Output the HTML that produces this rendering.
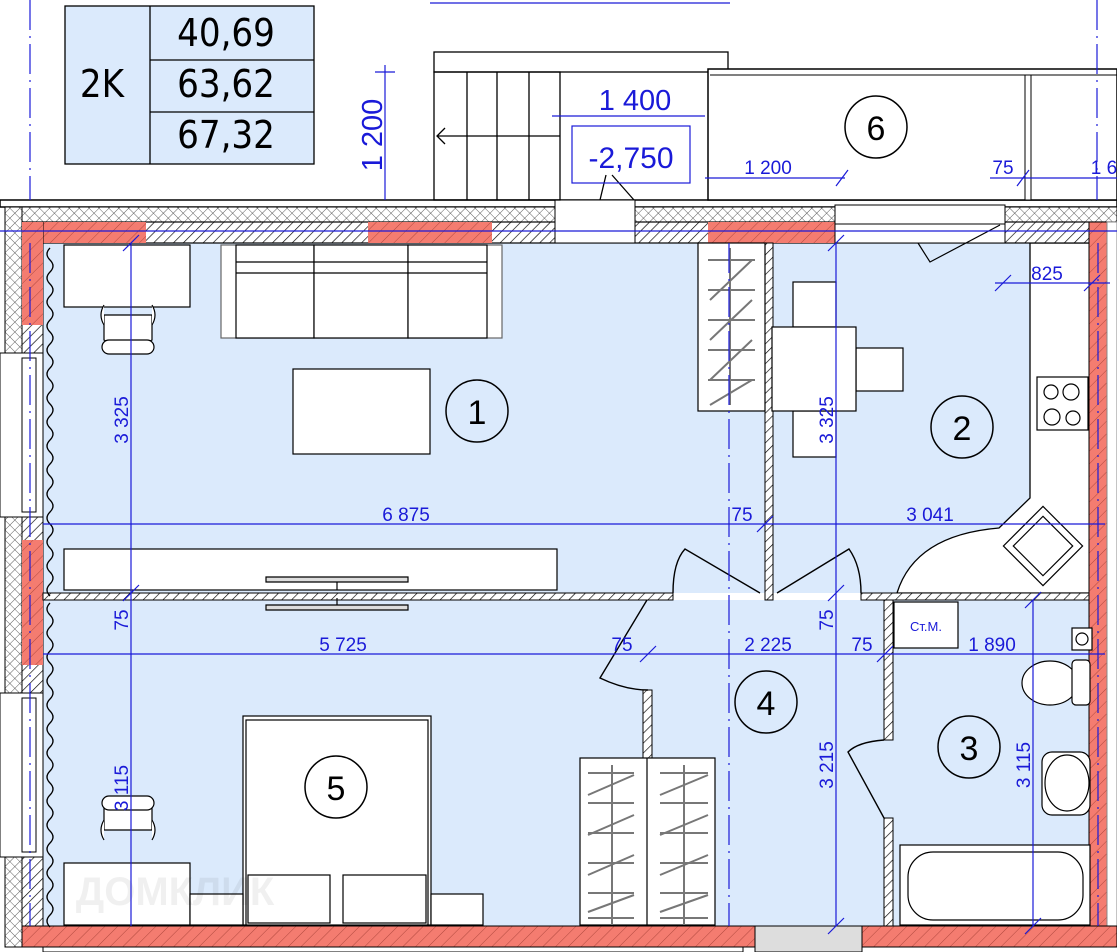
<!DOCTYPE html>
<html><head><meta charset="utf-8"><style>
html,body{margin:0;padding:0;background:#fff;}
svg{display:block;font-family:"Liberation Sans",sans-serif;}
.blu{fill:#1a1ad8;}
</style></head><body>
<svg width="1117" height="952" viewBox="0 0 1117 952" xmlns="http://www.w3.org/2000/svg">
<defs>
<pattern id="hat" width="7" height="7" patternUnits="userSpaceOnUse" patternTransform="rotate(45)">
<rect width="7" height="7" fill="#fff"/><line x1="0" y1="0" x2="0" y2="7" stroke="#000" stroke-width="1.3"/></pattern>
<pattern id="hatr" width="9" height="9" patternUnits="userSpaceOnUse" patternTransform="rotate(45)">
<rect width="9" height="9" fill="#f47c70"/><line x1="0" y1="0" x2="0" y2="9" stroke="#b0483e" stroke-width="1"/></pattern>
<pattern id="xh" width="7" height="7" patternUnits="userSpaceOnUse" patternTransform="rotate(45)">
<rect width="7" height="7" fill="#fff"/><path d="M0 0V7M0 0H7" stroke="#333" stroke-width="0.8"/></pattern>
</defs>

<rect x="43" y="243" width="722" height="350" fill="#dbeafc"/>
<rect x="773" y="243" width="319" height="350" fill="#dbeafc"/>
<rect x="43" y="600" width="1049" height="326" fill="#dbeafc"/>
<path d="M1030 243 V498 L999 528 Q915 535 897 593 H1092 V243Z" fill="#fff" stroke="#000" stroke-width="1.3"/>

<rect x="0" y="200" width="1117" height="7" fill="#fff" stroke="#000" stroke-width="1.5"/>
<rect x="5" y="207" width="1112" height="15" fill="url(#xh)" stroke="#000" stroke-width="1"/>
<rect x="22" y="222" width="1095" height="21" fill="url(#hat)" stroke="#000" stroke-width="1.2"/>
<rect x="22" y="222" width="124" height="21" fill="url(#hatr)"/>
<rect x="368" y="222" width="124" height="21" fill="url(#hatr)"/>
<rect x="708" y="222" width="127" height="21" fill="url(#hatr)"/>
<rect x="555" y="200" width="80" height="43" fill="#fff" stroke="#000"/>
<rect x="835" y="205" width="170" height="38" fill="#fff" stroke="#000"/>
<line x1="835" y1="224" x2="1005" y2="224" stroke="#000"/>
<path d="M918 243 L930 262 L1000 225" fill="none" stroke="#000" stroke-width="1.2"/>

<rect x="5" y="207" width="17" height="740" fill="url(#xh)" stroke="#000"/>
<rect x="22" y="222" width="21" height="725" fill="url(#hat)" stroke="#000"/>
<rect x="22" y="222" width="21" height="103" fill="url(#hatr)"/>
<rect x="22" y="540" width="21" height="125" fill="url(#hatr)"/>
<rect x="22" y="926" width="21" height="21" fill="url(#hatr)"/>
<rect x="0" y="353" width="43" height="164" fill="#fff" stroke="#000"/>
<rect x="22" y="358" width="14" height="154" fill="#fff" stroke="#000"/>
<rect x="0" y="693" width="43" height="164" fill="#fff" stroke="#000"/>
<rect x="22" y="698" width="14" height="154" fill="#fff" stroke="#000"/>

<rect x="1089" y="222" width="18" height="725" fill="url(#hatr)" stroke="#000"/>
<rect x="1107" y="222" width="10" height="725" fill="#fff" stroke="#888"/>

<rect x="22" y="926" width="1095" height="21" fill="url(#hatr)" stroke="#000"/>
<rect x="755" y="926" width="107" height="26" fill="#ddd" stroke="#000"/>
<rect x="43" y="947" width="700" height="5" fill="#fff" stroke="#000"/>

<rect x="43" y="593" width="630" height="7" fill="url(#hat)" stroke="#000"/>
<rect x="861" y="593" width="228" height="7" fill="url(#hat)" stroke="#000"/>
<rect x="765" y="243" width="8" height="357" fill="url(#hat)" stroke="#000"/>
<rect x="643" y="690" width="9" height="236" fill="url(#hat)" stroke="#000"/>
<rect x="884" y="600" width="9" height="140" fill="url(#hat)" stroke="#000"/>
<rect x="884" y="818" width="9" height="108" fill="url(#hat)" stroke="#000"/>

<g fill="none" stroke="#000" stroke-width="1.4">
<path d="M673 593 Q673 562 685 549 L760 593"/>
<path d="M777 593 L849 549 Q861 566 861 593"/>
<path d="M647 600 L600 678 Q625 690 648 690"/>
<path d="M884 740 Q858 742 848 752 L884 818"/>
</g>

<path d="M50 248 q-6 6 0 12 q6 6 0 12 q-6 6 0 12 q6 6 0 12 q-6 6 0 12 q6 6 0 12 q-6 6 0 12 q6 6 0 12 q-6 6 0 12 q6 6 0 12 q-6 6 0 12 q6 6 0 12 q-6 6 0 12 q6 6 0 12 q-6 6 0 12 q6 6 0 12 q-6 6 0 12 q6 6 0 12 q-6 6 0 12 q6 6 0 12 q-6 6 0 12 q6 6 0 12 q-6 6 0 12 q6 6 0 12 q-6 6 0 12 q6 6 0 12 q-6 6 0 12 q6 6 0 12 q-6 6 0 12" fill="none" stroke="#000" stroke-width="1.3"/>
<path d="M50 603 q-6 6 0 12 q6 6 0 12 q-6 6 0 12 q6 6 0 12 q-6 6 0 12 q6 6 0 12 q-6 6 0 12 q6 6 0 12 q-6 6 0 12 q6 6 0 12 q-6 6 0 12 q6 6 0 12 q-6 6 0 12 q6 6 0 12 q-6 6 0 12 q6 6 0 12 q-6 6 0 12 q6 6 0 12 q-6 6 0 12 q6 6 0 12 q-6 6 0 12 q6 6 0 12 q-6 6 0 12 q6 6 0 12 q-6 6 0 12 q6 6 0 12 q-6 6 0 12" fill="none" stroke="#000" stroke-width="1.3"/>

<g fill="#fff" stroke="#000" stroke-width="1.2">
<rect x="64" y="245" width="126" height="62"/>
<rect x="221" y="245" width="281" height="93" stroke="#666"/>
<rect x="236" y="245" width="78" height="93"/><rect x="314" y="245" width="94" height="93"/><rect x="408" y="245" width="79" height="93"/>
<line x1="236" y1="262" x2="487" y2="262"/><line x1="236" y1="273" x2="487" y2="273"/>
<rect x="293" y="369" width="137" height="85"/>
<rect x="64" y="549" width="493" height="41"/>
<path d="M104 315 h48 v25 q-24 14 -48 0 z"/>
<path d="M104 325 q-6 -10 0 -20 M152 325 q6 -10 0 -20"/>
<rect x="102" y="340" width="52" height="14" rx="7"/>
<path d="M266 577 H408 V582 H266Z" fill="#ddd"/><line x1="337" y1="582" x2="337" y2="590"/>
<path d="M266 605 H408 V610 H266Z" fill="#ddd"/><line x1="337" y1="598" x2="337" y2="605"/>
</g>
<circle cx="477" cy="411" r="31" fill="none" stroke="#000" stroke-width="1.5"/>
<text x="477" y="424" font-size="34" text-anchor="middle">1</text>

<g fill="#fff" stroke="#000" stroke-width="1.2">
<rect x="698" y="243" width="67" height="168"/>
<rect x="793" y="282" width="43" height="45"/><rect x="793" y="411" width="43" height="46"/>
<rect x="856" y="348" width="47" height="43"/>
<rect x="772" y="327" width="84" height="84"/>
<rect x="1037" y="377" width="51" height="53"/>
<circle cx="1051" cy="392" r="7"/><circle cx="1071" cy="392" r="8"/><circle cx="1052" cy="417" r="8"/><circle cx="1073" cy="418" r="7"/>
<rect x="1015" y="518" width="56" height="56" transform="rotate(45 1043 546)"/>
<rect x="1022" y="525" width="42" height="42" transform="rotate(45 1043 546)"/>
<rect x="580" y="758" width="135" height="167"/>
<line x1="647" y1="758" x2="647" y2="925"/>
</g>
<g stroke="#777" stroke-width="2">
<path d="M708 260H755M708 290H755M708 320H755M708 350H755M708 380H755M730 248V405M710 300L752 260M710 340L752 300M710 380L752 340M710 405L752 380"/>
<path d="M588 773H634M588 803H634M588 833H634M588 863H634M588 893H634M588 918H634M660 773H708M660 803H708M660 833H708M660 863H708M660 893H708M660 918H708M612 765V925M684 765V925M588 795L634 775M588 835L634 815M588 875L634 855M588 912L634 895M660 795L708 775M660 835L708 815M660 875L708 855M660 912L708 895"/>
</g>
<circle cx="962" cy="427" r="31" fill="none" stroke="#000" stroke-width="1.5"/>
<text x="962" y="440" font-size="34" text-anchor="middle">2</text>

<g fill="#fff" stroke="#000" stroke-width="1.2">
<rect x="243" y="716" width="188" height="209"/>
<rect x="246" y="720" width="182" height="205"/>
<rect x="248" y="875" width="82" height="48"/><rect x="343" y="875" width="83" height="48"/>
<rect x="64" y="863" width="126" height="62"/>
<rect x="190" y="894" width="53" height="31"/><rect x="431" y="894" width="52" height="31"/>
<path d="M104 830 h48 v-25 q-24 -14 -48 0 z"/>
<path d="M104 820 q-6 10 0 20 M152 820 q6 10 0 20"/>
<rect x="102" y="796" width="52" height="14" rx="7"/>
</g>
<circle cx="336" cy="787" r="31" fill="none" stroke="#000" stroke-width="1.5"/>
<text x="336" y="800" font-size="34" text-anchor="middle">5</text>
<text x="175" y="905" font-size="40" fill="#000" fill-opacity="0.06" text-anchor="middle" font-weight="bold">ДОМКЛИК</text>

<circle cx="766" cy="702" r="31" fill="none" stroke="#000" stroke-width="1.5"/>
<text x="766" y="715" font-size="34" text-anchor="middle">4</text>

<g fill="#fff" stroke="#000" stroke-width="1.2">
<rect x="894" y="602" width="64" height="46"/>
<rect x="1072" y="628" width="20" height="22"/>
<circle cx="1082" cy="639" r="6" fill="none"/>
<ellipse cx="1050" cy="683" rx="28" ry="22"/>
<rect x="1072" y="660" width="18" height="45" rx="4"/>
<rect x="1042" y="752" width="48" height="63" rx="10"/>
<ellipse cx="1067" cy="783" rx="22" ry="28"/>
<rect x="900" y="845" width="190" height="80"/>
<rect x="908" y="852" width="175" height="68" rx="25"/>
</g>
<text x="926" y="631" font-size="13" fill="#1a1ad8" text-anchor="middle">Ст.М.</text>
<circle cx="969" cy="747" r="31" fill="none" stroke="#000" stroke-width="1.5"/>
<text x="969" y="760" font-size="34" text-anchor="middle">3</text>

<rect x="65" y="6" width="249" height="158" fill="#dbeafc" stroke="#000" stroke-width="1.3"/>
<line x1="150" y1="6" x2="150" y2="164" stroke="#000" stroke-width="1.3"/>
<line x1="150" y1="60" x2="314" y2="60" stroke="#000" stroke-width="1.3"/>
<line x1="150" y1="112" x2="314" y2="112" stroke="#000" stroke-width="1.3"/>
<g font-size="38" text-anchor="middle" font-family="'DejaVu Sans Condensed','Liberation Sans Narrow','Liberation Sans',sans-serif">
<text x="102" y="97">2K</text>
<text x="226" y="46">40,69</text>
<text x="226" y="97">63,62</text>
<text x="226" y="148">67,32</text>
</g>

<g fill="none" stroke="#000" stroke-width="1.3">
<rect x="434" y="52" width="294" height="20" fill="#fff"/>
<rect x="434" y="72" width="126" height="128"/>
<path d="M467 72V200M497 72V200M529 72V200M437 136H560M445 128L437 136L445 144"/>
<path d="M600 200 L606 175 M612 175 L634 200"/>
</g>
<rect x="708" y="69" width="409" height="131" fill="#fff" stroke="#000" stroke-width="1.5"/>
<line x1="710" y1="75" x2="1117" y2="75" stroke="#000"/>
<rect x="1025" y="75" width="6" height="125" fill="#fff" stroke="#000"/>
<circle cx="876" cy="127" r="31" fill="none" stroke="#000" stroke-width="1.5"/>
<text x="876" y="140" font-size="34" text-anchor="middle">6</text>

<g stroke="#1a1ad8" stroke-width="1.2" fill="none">
<line x1="430" y1="3" x2="730" y2="3"/>
<line x1="385" y1="65" x2="385" y2="200"/><line x1="375" y1="72" x2="395" y2="72"/>
<line x1="552" y1="116" x2="705" y2="116"/>
<rect x="572" y="126" width="118" height="57"/>
<line x1="705" y1="178" x2="845" y2="178"/>
<line x1="990" y1="178" x2="1117" y2="178"/>
<line x1="0" y1="231" x2="1117" y2="231"/>
<line x1="30" y1="0" x2="30" y2="200" stroke-dasharray="30 6 2 6"/>
<line x1="1097" y1="0" x2="1097" y2="200" stroke-dasharray="30 6 2 6"/>
<line x1="1098" y1="243" x2="1098" y2="926" stroke-dasharray="30 6 2 6"/>
<line x1="729" y1="243" x2="729" y2="926" stroke-dasharray="30 6 2 6"/>
<line x1="30" y1="243" x2="30" y2="926" stroke-dasharray="30 6 2 6"/>
<line x1="43" y1="524" x2="1105" y2="524"/>
<line x1="43" y1="654" x2="1105" y2="654"/>
<line x1="131" y1="243" x2="131" y2="926"/>
<line x1="836" y1="243" x2="836" y2="926"/>
<line x1="1033" y1="600" x2="1033" y2="926"/>
<line x1="995" y1="283" x2="1110" y2="283"/>
<path d="M123 251L139 235M123 601L139 585M757 532L773 516M828 251L844 235M828 601L844 585M828 934L844 918M640 662L656 646M877 662L893 646M1025 608L1041 592M1025 934L1041 918M995 291L1011 275M1084 291L1100 275M836 186L848 170M1017 186L1029 170"/>
</g>
<g class="blu" text-anchor="middle">
<text x="635" y="110" font-size="29">1 400</text>
<text x="631" y="168" font-size="30">-2,750</text>
<text transform="translate(382 135) rotate(-90)" font-size="29">1 200</text>
<text x="768" y="174" font-size="19">1 200</text>
<text x="1003" y="174" font-size="19">75</text>
<text x="1104" y="174" font-size="19">1 6</text>
<text x="1047" y="280" font-size="19">825</text>
<text x="406" y="521" font-size="19">6 875</text>
<text x="742" y="521" font-size="19">75</text>
<text x="930" y="521" font-size="19">3 041</text>
<text x="343" y="651" font-size="19">5 725</text>
<text x="622" y="651" font-size="19">75</text>
<text x="768" y="651" font-size="19">2 225</text>
<text x="862" y="651" font-size="19">75</text>
<text x="992" y="651" font-size="19">1 890</text>
<text transform="translate(128 420) rotate(-90)" font-size="19">3 325</text>
<text transform="translate(833 420) rotate(-90)" font-size="19">3 325</text>
<text transform="translate(128 620) rotate(-90)" font-size="19">75</text>
<text transform="translate(833 620) rotate(-90)" font-size="19">75</text>
<text transform="translate(128 788) rotate(-90)" font-size="19">3 115</text>
<text transform="translate(833 765) rotate(-90)" font-size="19">3 215</text>
<text transform="translate(1030 765) rotate(-90)" font-size="19">3 115</text>
</g>
</svg>
</body></html>
